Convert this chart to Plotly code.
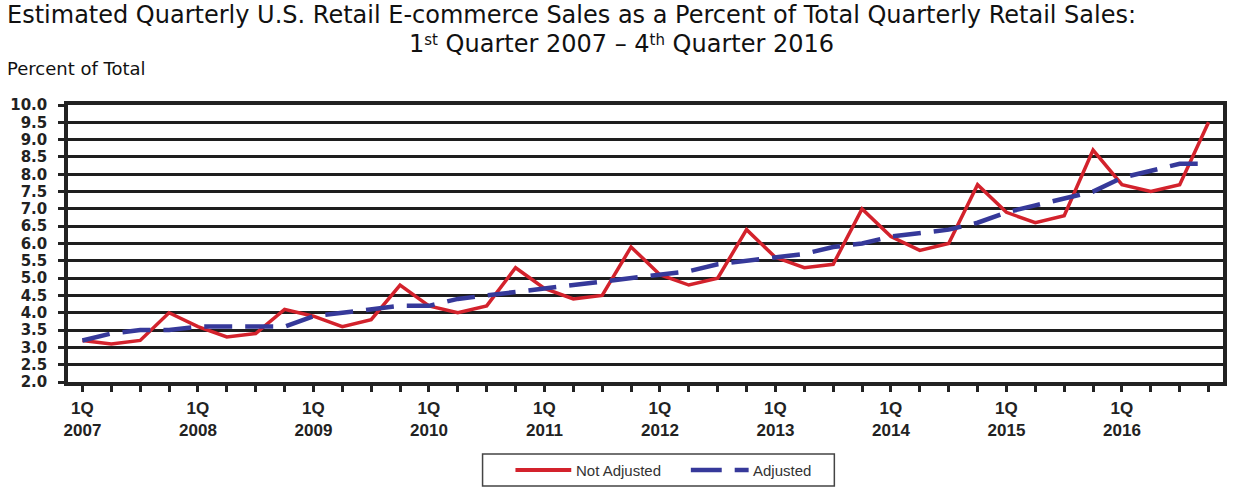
import plotly.graph_objects as go

# ---- data ----
years = list(range(2007, 2017))
quarters = [f"{q}Q {y}" for y in years for q in (1, 2, 3, 4)]
not_adjusted = [3.2, 3.1, 3.2, 4.0, 3.6, 3.3, 3.4, 4.1, 3.9, 3.6, 3.8, 4.8,
                4.2, 4.0, 4.2, 5.3, 4.7, 4.4, 4.5, 5.9, 5.1, 4.8, 5.0, 6.4,
                5.6, 5.3, 5.4, 7.0, 6.2, 5.8, 6.0, 7.7, 6.9, 6.6, 6.8, 8.7,
                7.7, 7.5, 7.7, 9.5]
adjusted = [3.2, 3.4, 3.5, 3.5, 3.6, 3.6, 3.6, 3.6, 3.9, 4.0, 4.1, 4.2,
            4.2, 4.4, 4.5, 4.6, 4.7, 4.8, 4.9, 5.0, 5.1, 5.2, 5.4, 5.5,
            5.6, 5.7, 5.9, 6.0, 6.2, 6.3, 6.4, 6.6, 6.9, 7.1, 7.3, 7.5,
            7.9, 8.1, 8.3, 8.3]
tick_labels = [f"<b>1Q</b><br><b>{y}</b>" for y in years]
y_ticks = [2.0 + 0.5 * i for i in range(17)]

x_idx = list(range(len(quarters)))
first_q_idx = [i for i, q in enumerate(quarters) if q.startswith("1Q")]

RED = "#d3222c"
BLUE = "#36399a"

W, H = 1237, 493
L, R, T, B = 68, 10, 105, 111
PW, PH = W - L - R, H - T - B


def px_x(p):
    return (p - L) / PW


def px_y(p):
    return (H - B - p) / PH


fig = go.Figure()
fig.add_trace(go.Scatter(x=x_idx, y=not_adjusted, mode="lines", name="Not Adjusted",
                         text=quarters, hovertemplate="%{text}: %{y:.1f}%<extra>Not Adjusted</extra>",
                         line=dict(color=RED, width=3.5)))
fig.add_trace(go.Scatter(x=x_idx, y=adjusted, mode="lines", name="Adjusted",
                         text=quarters, hovertemplate="%{text}: %{y:.1f}%<extra>Adjusted</extra>",
                         line=dict(color=BLUE, width=4.5, dash="28px,13px")))

fig.update_layout(
    width=W, height=H,
    margin=dict(l=L, r=R, t=T, b=B),
    paper_bgcolor="white", plot_bgcolor="white",
    showlegend=False,
    xaxis=dict(range=[-0.5, len(quarters) - 0.5],
               tickmode="array", tickvals=first_q_idx, ticktext=tick_labels,
               ticks="outside", ticklen=6, tickwidth=2.5, tickcolor="#222",
               minor=dict(ticks="outside", dtick=1, tick0=0, ticklen=6,
                          tickwidth=2.5, tickcolor="#222", showgrid=False),
               showgrid=False, showline=True, linecolor="#222", linewidth=3.5,
               mirror=True, zeroline=False, ticklabelstandoff=2,
               tickfont=dict(family="Liberation Sans", size=17, color="#222")),
    yaxis=dict(range=[2.0, 10.0], tickmode="array", tickvals=y_ticks,
               ticktext=[f"<b>{v:.1f}</b>" for v in y_ticks],
               ticks="outside", ticklen=6, tickwidth=2.5, tickcolor="#222",
               showgrid=True, gridcolor="#1e1e1e", gridwidth=2.5,
               showline=True, linecolor="#222", linewidth=3.5, mirror=True,
               zeroline=False, ticklabelstandoff=8,
               tickfont=dict(family="DejaVu Sans", size=15, color="#222")),
)

SUP = "<span style='font-size:15px;baseline-shift:7px'>{}</span>"

# titles
fig.add_annotation(x=px_x(5), y=px_y(15), xref="paper", yref="paper", xanchor="left",
                   yanchor="middle", showarrow=False,
                   text="Estimated Quarterly U.S. Retail E-commerce Sales as a Percent of Total Quarterly Retail Sales:",
                   font=dict(family="DejaVu Sans", size=24, color="#111"))
fig.add_annotation(x=px_x(623), y=px_y(44), xref="paper", yref="paper", xanchor="center",
                   yanchor="middle", showarrow=False,
                   text="1" + SUP.format("st") + " Quarter 2007 – 4" + SUP.format("th") + " Quarter 2016",
                   font=dict(family="DejaVu Sans", size=24, color="#111"))
fig.add_annotation(x=px_x(5), y=px_y(69), xref="paper", yref="paper", xanchor="left",
                   yanchor="middle", showarrow=False, text="Percent of Total",
                   font=dict(family="DejaVu Sans", size=18, color="#111"))

# legend (drawn)
fig.add_shape(type="rect", xref="paper", yref="paper", x0=px_x(484), x1=px_x(837),
              y0=px_y(486), y1=px_y(454), line=dict(color="#444", width=1.5),
              fillcolor="white")
fig.add_shape(type="line", xref="paper", yref="paper", x0=px_x(517), x1=px_x(573),
              y0=px_y(470), y1=px_y(470), line=dict(color=RED, width=4))
fig.add_annotation(x=px_x(576), y=px_y(470), xref="paper", yref="paper", xanchor="left",
                   yanchor="middle", showarrow=False, text="Not Adjusted",
                   font=dict(family="Liberation Sans", size=15, color="#333"))
fig.add_shape(type="line", xref="paper", yref="paper", x0=px_x(693), x1=px_x(724),
              y0=px_y(470), y1=px_y(470), line=dict(color=BLUE, width=4.5))
fig.add_shape(type="line", xref="paper", yref="paper", x0=px_x(737), x1=px_x(751),
              y0=px_y(470), y1=px_y(470), line=dict(color=BLUE, width=4.5))
fig.add_annotation(x=px_x(753), y=px_y(470), xref="paper", yref="paper", xanchor="left",
                   yanchor="middle", showarrow=False, text="Adjusted",
                   font=dict(family="Liberation Sans", size=15, color="#333"))

fig.write_html("out.html", config={"displayModeBar": False},
               post_script="document.body.style.margin='0';document.body.style.overflow='hidden';")
